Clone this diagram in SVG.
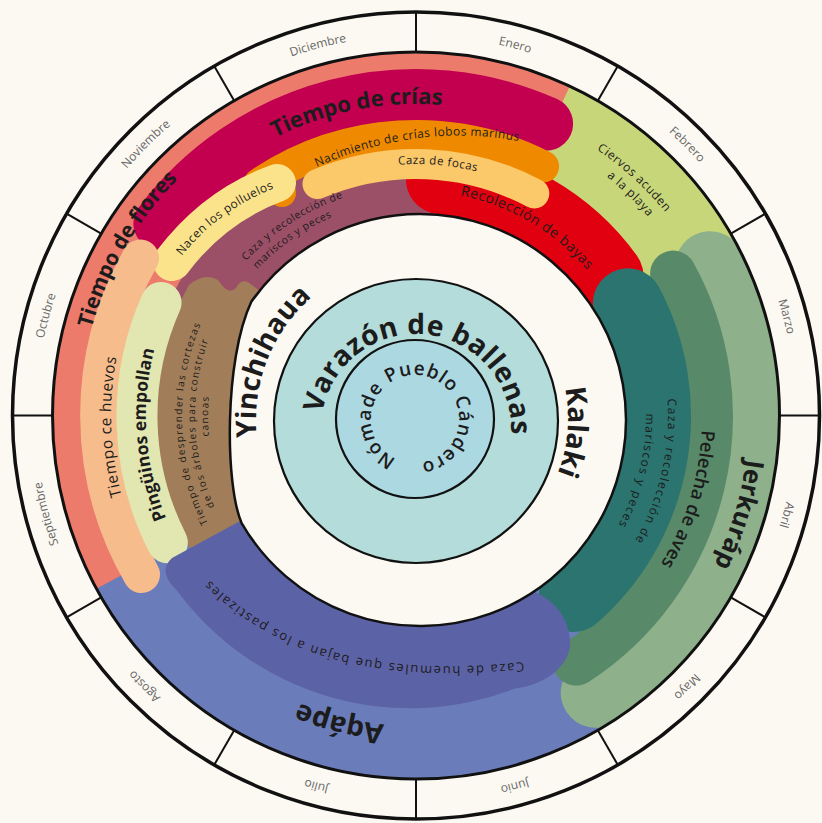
<svg xmlns="http://www.w3.org/2000/svg" width="822" height="823" viewBox="0 0 822 823">
<defs>
<clipPath id="bandClip"><circle cx="416" cy="416" r="363"/></clipPath>
<path id="pMonths" d="M416 35.5 A380 380 0 1 1 416 795.5 A380 380 0 1 1 416 35.5"/>
<path id="pCrias" d="M121 314.4 A312 312 0 0 1 651.5 211.3"/>
<path id="pNacim" d="M290 180 Q419 112 548 148"/>
<path id="pFocas" d="M209.6 271.5 A252 252 0 0 1 644.4 309.5"/>
<path id="pBayas" d="M305.2 220.2 A225 225 0 0 1 641 418"/>
<path id="pCiervos1" d="M319.2 108.9 A322 322 0 0 1 730.4 485.7"/>
<path id="pCiervos2" d="M331.7 121.8 A306 306 0 0 1 712.9 490"/>
<path id="pFlores" d="M125 584 A336 336 0 0 1 416 80"/>
<path id="pPolluelos" d="M178 261 Q217 209 280 186"/>
<path id="pMauve1" d="M186.3 428 A230 230 0 0 1 520.4 211.1"/>
<path id="pMauve2" d="M200.8 434.8 A216 216 0 0 1 507.3 220.2"/>
<path id="pHuevos" d="M272.8 685.3 A305 305 0 0 1 254.4 157.4"/>
<path id="pPing" d="M297.6 658.7 A270 270 0 0 1 265 192.2"/>
<path id="pBrown1" d="M306.1 622.6 A234 234 0 0 1 292 217.6"/>
<path id="pBrown2" d="M312.2 611.1 A221 221 0 0 1 298.9 228.6"/>
<path id="pBrown3" d="M312 596.1 A208 208 0 0 1 312 235.9"/>
<path id="pHuemules" d="M575 656 C440 674 280 684 175 540"/>
<path id="pAqape" d="M639 631.4 A310 310 0 0 1 118 501.4"/>
<path id="pJerk" d="M659.6 188.9 A333 333 0 0 1 490.9 740.5"/>
<path id="pPelecha" d="M625.2 220.9 A286 286 0 0 1 480.4 694.7"/>
<path id="pTeal1" d="M587.9 231.7 A252 252 0 0 1 489.7 657"/>
<path id="pTeal2" d="M575.8 250.6 A230 230 0 0 1 479.4 637.1"/>
<path id="pYinchi" d="M291.4 521.5 A163 163 0 0 1 394.9 258.8"/>
<path id="pKalaki" d="M503.2 293.5 A152 152 0 0 1 480.2 555.8"/>
<path id="pVarazon" d="M328.9 466.9 A95 95 0 1 1 492.4 485.5"/>
<path id="pPueblo" d="M389.1 383.4 A44 44 0 1 1 440.9 454.6 A44 44 0 1 1 389.1 383.4"/>
</defs>
<style>
text { font-family: "Open Sans", "Liberation Sans", sans-serif; fill: #1c1c1c; }
.mid { text-anchor: middle; }
.month { font-size: 12px; fill: #666; }
.arc { fill: none; stroke-linecap: round; }
.big { font-weight: bold; }
.ring { fill: none; stroke: #111; }
.brown { font-size: 10px; letter-spacing: 1.3px; }
</style>
<rect width="822" height="823" fill="#fcf9f2"/>

<g id="band" clip-path="url(#bandClip)">
  <circle id="agape-base" cx="416" cy="416" r="370" fill="#6a7dba"/>
  <path id="flores-base" d="M416 416 L90.5 592 A370 370 0 0 1 601 95.6 Z" fill="#ec7b6b"/>
  <path id="ciervos" d="M416 416 L572.4 80.7 A370 370 0 0 1 763.7 289.5 Z" fill="#c8d67a"/>
  <path id="mariscos-w" d="M416 416 L169.5 301.1 A272 272 0 0 1 439.7 145 Z" fill="#9c5068"/>
  <path id="cortezas" d="M416 416 L176 597 L207 574 A262 262 0 0 1 189 285 Q205 272 218 280 Q228 296 236 288 Q242 276 252 285 Z" fill="#a17e59"/>
  <path id="bayas" class="arc" d="M440.9 179.3 A238 238 0 0 1 608.5 276.1" stroke="#e1000f" stroke-width="70"/>
  <path id="crias" class="arc" d="M160.4 223.4 A320 320 0 0 1 546.1 123.7" stroke="#c2004f" stroke-width="54"/>
  <path id="lobos" class="arc" d="M259.4 183.9 A280 280 0 0 1 543.1 166.5" stroke="#ef8a00" stroke-width="32"/>
  <circle cx="282" cy="193" r="14" fill="#ef8a00"/>
  <path id="focas" class="arc" d="M317.5 184 A252 252 0 0 1 534.3 193.5" stroke="#fbc86a" stroke-width="30"/>
  <path id="polluelos" class="arc" d="M172 262 Q214 206 277 183" stroke="#fbe38b" stroke-width="38"/>
  <path id="huevos" class="arc" d="M141.5 574.5 A317 317 0 0 1 140.5 258" stroke="#f6bc8b" stroke-width="37"/>
  <path id="pinguinos" class="arc" d="M167.4 542.7 A279 279 0 0 1 161.1 302.5" stroke="#e2e6b1" stroke-width="41"/>
  <path id="jerkurap" class="arc" d="M710 266.2 A330 330 0 0 1 595.7 692.8" stroke="#8eb08b" stroke-width="70"/>
  <path id="pelecha" class="arc" d="M673.1 273.5 A294 294 0 0 1 576.1 662.6" stroke="#588a69" stroke-width="46"/>
  <path id="mariscos-e" class="arc" d="M627.9 303.3 A240 240 0 0 1 573.5 597.1" stroke="#2b746f" stroke-width="70"/>
  <path id="huemules" d="M242 520 L172 558 Q157.1 571.5 176.5 590 A290 290 0 0 0 515.2 688.5 C550 684 572 662 570 640 C568 615 552 598 530 590 Z" fill="#5c62a6"/>
</g>

<g id="centre">
  <path id="white-disc" d="M420 214 A206 206 0 1 1 241.6 523 C225 485 224 360 251.3 301.8 A206 206 0 0 1 420 214 Z" fill="#fcf9f2" stroke="#111" stroke-width="2.5"/>
  <circle id="ballenas" cx="416" cy="421" r="142" fill="#b3dcdb" stroke="#111" stroke-width="2.2"/>
  <circle id="pueblo" cx="415" cy="419" r="79" fill="#acd8e2" stroke="#111" stroke-width="2.2"/>
</g>

<g id="month-ring">
  <circle class="ring" cx="416" cy="415.5" r="403.5" stroke-width="3.5"/>
  <circle class="ring" cx="416" cy="415.5" r="363.5" stroke-width="3"/>
  <g stroke="#111" stroke-width="2">
    <line x1="416" y1="52" x2="416" y2="12"/>
    <line x1="597.8" y1="100.7" x2="617.8" y2="66.1"/>
    <line x1="730.8" y1="233.7" x2="765.4" y2="213.7"/>
    <line x1="779.5" y1="415.5" x2="819.5" y2="415.5"/>
    <line x1="730.8" y1="597.3" x2="765.4" y2="617.3"/>
    <line x1="597.8" y1="730.3" x2="617.8" y2="764.9"/>
    <line x1="416" y1="779" x2="416" y2="819"/>
    <line x1="234.2" y1="730.3" x2="214.2" y2="764.9"/>
    <line x1="101.2" y1="597.3" x2="66.6" y2="617.3"/>
    <line x1="52.5" y1="415.5" x2="12.5" y2="415.5"/>
    <line x1="101.2" y1="233.7" x2="66.6" y2="213.7"/>
    <line x1="234.2" y1="100.7" x2="214.2" y2="66.1"/>
  </g>
  <text class="month mid"><textPath href="#pMonths" startOffset="99.5">Enero</textPath></text>
  <text class="month mid"><textPath href="#pMonths" startOffset="298.4">Febrero</textPath></text>
  <text class="month mid"><textPath href="#pMonths" startOffset="497.4">Marzo</textPath></text>
  <text class="month mid"><textPath href="#pMonths" startOffset="696.4">Abril</textPath></text>
  <text class="month mid"><textPath href="#pMonths" startOffset="895.3">Mayo</textPath></text>
  <text class="month mid"><textPath href="#pMonths" startOffset="1094.3">Junio</textPath></text>
  <text class="month mid"><textPath href="#pMonths" startOffset="1293.3">Julio</textPath></text>
  <text class="month mid"><textPath href="#pMonths" startOffset="1492.2">Agosto</textPath></text>
  <text class="month mid"><textPath href="#pMonths" startOffset="1691.2">Septiembre</textPath></text>
  <text class="month mid"><textPath href="#pMonths" startOffset="1890.2">Octubre</textPath></text>
  <text class="month mid"><textPath href="#pMonths" startOffset="2089.1">Noviembre</textPath></text>
  <text class="month mid"><textPath href="#pMonths" startOffset="2288.1">Diciembre</textPath></text>
</g>

<g id="labels">
  <text class="mid big" font-size="22"><textPath href="#pCrias" startOffset="50%">Tiempo de crías</textPath></text>
  <text class="mid" font-size="12" letter-spacing="0.4"><textPath href="#pNacim" startOffset="50%">Nacimiento de crías lobos marinus</textPath></text>
  <text class="mid" font-size="11.5" letter-spacing="0.5"><textPath href="#pFocas" startOffset="50%">Caza de focas</textPath></text>
  <text class="mid" font-size="14" letter-spacing="0.6"><textPath href="#pBayas" startOffset="50%">Recolección de bayas</textPath></text>
  <text class="mid" font-size="12" letter-spacing="0.6"><textPath href="#pCiervos1" startOffset="50%">Ciervos acuden</textPath></text>
  <text class="mid" font-size="12" letter-spacing="0.6"><textPath href="#pCiervos2" startOffset="50%">a la playa</textPath></text>
  <text class="mid big" font-size="21"><textPath href="#pFlores" startOffset="50%">Tiempo de flores</textPath></text>
  <text class="mid" font-size="12" letter-spacing="0.4"><textPath href="#pPolluelos" startOffset="50%">Nacen los polluelos</textPath></text>
  <text class="mid" font-size="10.5" letter-spacing="0.6" fill="#2e1f28"><textPath href="#pMauve1" startOffset="50%">Caza y recolección de</textPath></text>
  <text class="mid" font-size="10.5" letter-spacing="0.6" fill="#2e1f28"><textPath href="#pMauve2" startOffset="50%">mariscos y peces</textPath></text>
  <text class="mid" font-size="15.5" letter-spacing="0.6"><textPath href="#pHuevos" startOffset="50%">Tiempo ce huevos</textPath></text>
  <text class="mid big" font-size="17.5"><textPath href="#pPing" startOffset="50%">Pingüinos empollan</textPath></text>
  <text class="mid brown"><textPath href="#pBrown1" startOffset="50%">Tiempo de desprender las cortezas</textPath></text>
  <text class="mid brown"><textPath href="#pBrown2" startOffset="50%">de los árboles para construir</textPath></text>
  <text class="mid brown"><textPath href="#pBrown3" startOffset="50%">canoas</textPath></text>
  <text class="mid" font-size="13" letter-spacing="1.6"><textPath href="#pHuemules" startOffset="50%">Caza de huemules que bajan a los pastizales</textPath></text>
  <text class="mid big" font-size="28"><textPath href="#pAqape" startOffset="50%">Aqápe</textPath></text>
  <text class="mid big" font-size="25.5"><textPath href="#pJerk" startOffset="50%">Jerkuráp</textPath></text>
  <text class="mid" font-size="18.5" font-weight="600"><textPath href="#pPelecha" startOffset="50%">Pelecha de aves</textPath></text>
  <text class="mid" font-size="12" letter-spacing="1.4"><textPath href="#pTeal1" startOffset="50%">Caza y recolección de</textPath></text>
  <text class="mid" font-size="12" letter-spacing="1.4"><textPath href="#pTeal2" startOffset="50%">mariscos y peces</textPath></text>
  <text class="mid big" font-size="28"><textPath href="#pYinchi" startOffset="50%">Yinchihaua</textPath></text>
  <text class="mid big" font-size="28"><textPath href="#pKalaki" startOffset="50%">Kalaki</textPath></text>
  <text class="mid big" font-size="28" letter-spacing="0.4"><textPath href="#pVarazon" startOffset="50%">Varazón de ballenas</textPath></text>
  <text font-size="19" font-weight="600" letter-spacing="1"><textPath href="#pPueblo" startOffset="0">Pueblo Cándero</textPath></text>
  <text font-size="19" font-weight="600" letter-spacing="1"><textPath href="#pPueblo" startOffset="185">Nómade</textPath></text>
</g>
</svg>
